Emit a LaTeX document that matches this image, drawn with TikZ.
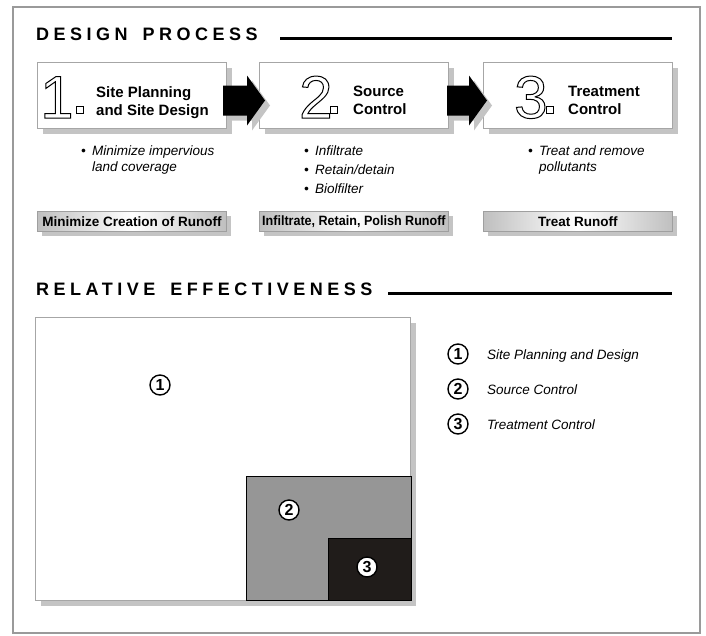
\documentclass[tikz,border=0pt]{standalone}
\usepackage{fontspec}
\setmainfont{Liberation Sans}
\usetikzlibrary{calc,shadows}
\definecolor{framegray}{HTML}{9A9A9A}
\definecolor{shadowgray}{HTML}{C4C4C4}
\definecolor{boxgray}{HTML}{A6A6A6}
\definecolor{midgray}{HTML}{969696}
\definecolor{darkfill}{HTML}{201C1A}
\newcommand\outl[1]{\special{pdf:literal direct 1 Tr 1 w}#1\special{pdf:literal direct 0 Tr 0.4 w}}
\newcommand\blockarrow[3]{\fill[#3] ($(#1)+(0,-15)$) -- ($(#2)+(-18,-15)$) -- ($(#2)+(-18,-25)$) -- (#2) -- ($(#2)+(-18,25)$) -- ($(#2)+(-18,15)$) -- ($(#1)+(0,15)$) -- cycle;}
\newcommand\bulitem[1]{\makebox[11pt][l]{\textbullet}#1}
\begin{document}
\begin{tikzpicture}[x=1pt,y=-1pt,
  every node/.style={inner sep=0pt},
  sectitle/.style={anchor=base west, font=\fontsize{18}{20}\selectfont\bfseries\addfontfeatures{LetterSpace=25}},
  rule/.style={line width=3pt},
  shad/.style={drop shadow={shadow xshift=5pt, shadow yshift=-5pt, fill=shadowgray, opacity=1}},
  pbox/.style={shad, draw=boxgray, line width=1pt, fill=white, minimum width=189pt, minimum height=66pt, anchor=north west},
  bignum/.style={anchor=base west, font=\fontsize{60}{60}\selectfont},
  sq/.style={draw=black, line width=0.6pt, fill=white, minimum size=7pt},
  btitle/.style={anchor=north west, align=left, font=\fontsize{15}{18}\selectfont\bfseries},
  bul/.style={anchor=base west, font=\fontsize{13.5}{16}\selectfont\itshape},
  lbox/.style={shad, anchor=north west, draw=gray!75, line width=0.8pt, minimum width=189pt, minimum height=20pt, left color=gray!50, right color=gray!50, middle color=white, font=\fontsize{13.5}{16}\selectfont\bfseries},
  cnum/.style={circle, draw=black, line width=1.4pt, fill=white, minimum size=20pt, font=\fontsize{16}{16}\selectfont\bfseries},
  leg/.style={anchor=base west, font=\fontsize{13.5}{16}\selectfont\itshape}
]
\useasboundingbox (0,0) rectangle (706,635);
\draw[framegray, line width=2pt] (13,7) rectangle (700,633);

% Design process
\node[sectitle] (h1) at (36,40) {DESIGN\hspace{15pt}PROCESS};
\draw[rule] (280,38.5) -- (672,38.5);

\node[pbox] (b1) at (37,62) {};
\node[pbox] (b2) at (259,62) {};
\node[pbox] (b3) at (483,62) {};

\coordinate (a1s) at ($(b1.east)+(-4,5)$);
\coordinate (a1t) at ($(b2.west)+(6,5)$);
\coordinate (a2s) at ($(b2.east)+(-2,5)$);
\coordinate (a2t) at ($(b3.west)+(4,5)$);
\begin{scope}[transform canvas={shift={(5pt,-5pt)}}]
\blockarrow{a1s}{a1t}{shadowgray}
\blockarrow{a2s}{a2t}{shadowgray}
\end{scope}
\blockarrow{a1s}{a1t}{black}
\blockarrow{a2s}{a2t}{black}

\node[bignum] (n1) at (40,118) {\outl{1}};
\node[bignum] (n2) at (299,118) {\outl{2}};
\node[bignum] (n3) at (514,118) {\outl{3}};
\node[sq] (s1) at (79.5,109.5) {};
\node[sq] (s2) at (333.5,109.5) {};
\node[sq] (s3) at (549.5,109.5) {};

\node[btitle] (l1) at (96,86) {Site Planning\\and Site Design};
\node[btitle] (l2) at (353,86) {Source\\Control};
\node[btitle] (l3) at (568,86) {Treatment\\Control};

\node[bul] (p1a) at (81,155) {\bulitem{Minimize impervious}};
\node[bul] (p1b) at (92,171) {land coverage};
\node[bul] (p2a) at (304,155) {\bulitem{Infiltrate}};
\node[bul] (p2b) at (304,174) {\bulitem{Retain/detain}};
\node[bul] (p2c) at (304,193) {\bulitem{Biolfilter}};
\node[bul] (p3a) at (528,155) {\bulitem{Treat and remove}};
\node[bul] (p3b) at (539,171) {pollutants};

\node[lbox] (r1) at (37,211) {Minimize Creation of Runoff};
\node[lbox] (r2) at (259,211) {\scalebox{0.93}[1]{Infiltrate, Retain, Polish Runoff}};
\node[lbox] (r3) at (483,211) {Treat Runoff};

% Relative effectiveness
\node[sectitle] (h2) at (36,295) {RELATIVE\hspace{15pt}EFFECTIVENESS};
\draw[rule] (388,293.5) -- (672,293.5);

\node[shad, draw=boxgray, line width=1pt, fill=white, minimum width=375pt, minimum height=283pt, anchor=north west] (bb) at (35,317) {};
\node[draw=black, line width=1pt, fill=midgray, minimum width=165pt, minimum height=124pt, anchor=north west] (g2) at (246,476) {};
\node[draw=black, line width=1pt, fill=darkfill, minimum width=83pt, minimum height=62pt, anchor=north west] (g3) at (328,538) {};

\node[cnum] (c1) at (160,385) {1};
\node[cnum] (c2) at (289,510) {2};
\node[cnum] (c3) at (367,567) {3};

\node[cnum] (k1) at (458,354) {1};
\node[cnum] (k2) at (458,389) {2};
\node[cnum] (k3) at (458,424) {3};
\node[leg] (e1) at (487,359) {Site Planning and Design};
\node[leg] (e2) at (487,394) {Source Control};
\node[leg] (e3) at (487,429) {Treatment Control};
\end{tikzpicture}
\end{document}
